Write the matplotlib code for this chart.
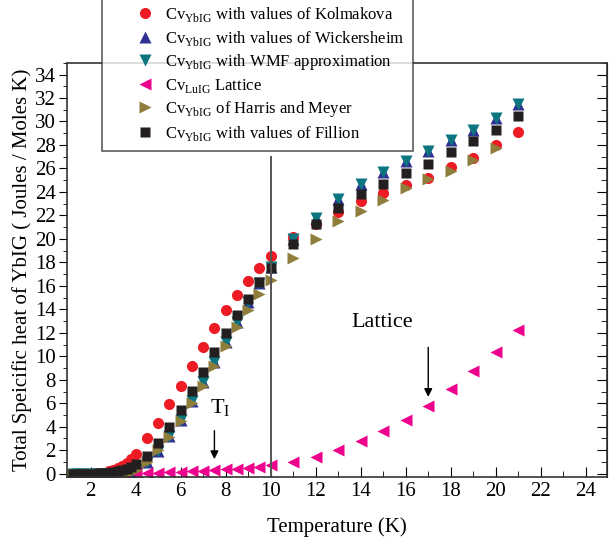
import matplotlib
matplotlib.use('Agg')
import matplotlib.pyplot as plt
from matplotlib.ticker import MultipleLocator

plt.rcParams['font.family'] = ['Liberation Serif', 'DejaVu Serif']
plt.rcParams['mathtext.fontset'] = 'custom'
plt.rcParams['mathtext.rm'] = 'Liberation Serif'

# Temperatures (K)
T_main = [1.2, 1.4, 1.6, 1.8, 2.0, 2.2, 2.4, 2.6, 2.8, 3.0, 3.2, 3.4, 3.6, 3.8,
          4.0, 4.5, 5.0, 5.5, 6.0, 6.5, 7.0, 7.5, 8.0, 8.5, 9.0, 9.5, 10.0,
          11, 12, 13, 14, 15, 16, 17, 18, 19, 20, 21]
T_harris = T_main[:-1]
T_lattice = [1.5, 2.0, 2.5, 3.0, 3.5, 4.0, 4.5, 5.0, 5.5, 6.0, 6.5, 7.0, 7.5,
             8.0, 8.5, 9.0, 9.5, 10.0, 11, 12, 13, 14, 15, 16, 17, 18, 19, 20, 21]

# Specific heat values (J / mol K)
cv_kolmakova = [0, 0, 0, 0, 0.01, 0.02, 0.04, 0.1, 0.2, 0.3, 0.45, 0.65, 0.9, 1.25,
                1.7, 3.0, 4.3, 5.9, 7.5, 9.2, 10.8, 12.4, 13.9, 15.2, 16.4, 17.5, 18.5,
                20.2, 21.3, 22.3, 23.2, 23.9, 24.6, 25.2, 26.1, 26.9, 28.0, 29.1]
cv_wickersheim = [0, 0, 0, 0, 0, 0, 0, 0, 0, 0.01, 0.03, 0.06, 0.1, 0.16,
                  0.35, 1.0, 1.9, 3.2, 4.6, 6.2, 7.8, 9.5, 11.2, 12.9, 14.6, 16.2, 17.6,
                  20.0, 21.8, 23.4, 24.7, 25.7, 26.6, 27.5, 28.4, 29.3, 30.3, 31.5]
cv_wmf = [0, 0, 0, 0, 0, 0, 0, 0, 0, 0.01, 0.03, 0.06, 0.1, 0.16,
          0.35, 1.0, 1.9, 3.2, 4.6, 6.2, 7.8, 9.5, 11.2, 12.9, 14.6, 16.2, 17.6,
          20.0, 21.8, 23.4, 24.7, 25.7, 26.6, 27.5, 28.4, 29.3, 30.3, 31.5]
cv_lattice = [0, 0, 0, 0.01, 0.02, 0.04, 0.06, 0.09, 0.12, 0.16, 0.2, 0.25, 0.31,
              0.37, 0.44, 0.52, 0.6, 0.7, 0.96, 1.42, 1.98, 2.75, 3.6, 4.6, 5.8,
              7.2, 8.76, 10.4, 12.25]
cv_harris = [0, 0, 0, 0, 0, 0, 0, 0, 0, 0.01, 0.03, 0.06, 0.1, 0.16,
             0.3, 1.0, 2.0, 3.1, 4.45, 6.05, 7.5, 9.2, 10.9, 12.5, 13.9, 15.3, 16.5,
             18.4, 20.0, 21.5, 22.4, 23.3, 24.3, 25.1, 25.8, 26.7, 27.7]
cv_fillion = [0, 0, 0, 0, 0, 0.01, 0.02, 0.04, 0.07, 0.12, 0.2, 0.3, 0.42, 0.6,
              0.85, 1.5, 2.6, 3.95, 5.45, 7.05, 8.65, 10.35, 11.95, 13.5, 14.9, 16.3, 17.5,
              19.6, 21.3, 22.6, 23.8, 24.7, 25.6, 26.4, 27.4, 28.3, 29.3, 30.5]

fig = plt.figure(figsize=(6.09, 5.46), dpi=100)
ax = fig.add_axes([0.110, 0.126, 0.887, 0.759])

ms = 8
ax.plot(T_main, cv_kolmakova, 'o', color='#ed1c24', ms=ms, mec='none',
        label=r'Cv$_{\rm YbIG}$ with values of Kolmakova')
ax.plot(T_main, cv_wickersheim, '^', color='#2e3192', ms=ms + 1, mec='none',
        label=r'Cv$_{\rm YbIG}$ with values of Wickersheim')
ax.plot(T_main, cv_wmf, 'v', color='#0b7580', ms=ms + 1, mec='none',
        label=r'Cv$_{\rm YbIG}$ with WMF approximation')
ax.plot(T_lattice, cv_lattice, '<', color='#ec008c', ms=ms + 1, mec='none',
        label=r'Cv$_{\rm LuIG}$ Lattice')
ax.plot(T_harris, cv_harris, '>', color='#8f7d3c', ms=ms + 1, mec='none',
        label=r'Cv$_{\rm YbIG}$ of Harris and Meyer')
ax.plot(T_main, cv_fillion, 's', color='#231f20', ms=ms - 1, mec='none',
        label=r'Cv$_{\rm YbIG}$ with values of Fillion')

# vertical marker at 10 K
ax.plot([10, 10], [-0.3, 27], color='#555555', lw=1.4)

# annotations
ax.annotate('', xy=(7.5, 1.0), xytext=(7.5, 3.9),
            arrowprops=dict(arrowstyle='-|>', color='black', lw=1, mutation_scale=12))
ax.text(7.75, 5.6, r'T$_{\rm I}$', fontsize=16, ha='center', va='center')
ax.annotate('', xy=(17.0, 6.3), xytext=(17.0, 11.0),
            arrowprops=dict(arrowstyle='-|>', color='black', lw=1, mutation_scale=12))
ax.text(14.95, 12.9, 'Lattice', fontsize=16, ha='center', va='center')

ax.set_xlim(0.95, 24.95)
ax.set_ylim(-0.3, 35)
ax.xaxis.set_major_locator(MultipleLocator(2))
ax.xaxis.set_minor_locator(MultipleLocator(1))
ax.yaxis.set_major_locator(MultipleLocator(2))
ax.yaxis.set_minor_locator(MultipleLocator(1))
ax.tick_params(axis='x', which='both', direction='in', top=False, labelsize=15)
ax.tick_params(axis='x', which='major', length=7)
ax.tick_params(axis='x', which='minor', length=4)
ax.tick_params(axis='y', which='both', direction='out', right=False, labelsize=15, pad=2)
ax.tick_params(axis='y', which='major', length=6)
ax.tick_params(axis='y', which='minor', length=3)
for spine in ax.spines.values():
    spine.set_linewidth(1.2)
    spine.set_color('#333333')

# inward ticks on the right side
sec = ax.secondary_yaxis('right')
sec.yaxis.set_major_locator(MultipleLocator(2))
sec.yaxis.set_minor_locator(MultipleLocator(1))
sec.tick_params(which='both', direction='in', labelright=False)
sec.tick_params(which='major', length=7)
sec.tick_params(which='minor', length=4)

ax.set_xlabel('Temperature (K)', fontsize=15, labelpad=12)
ax.set_ylabel('Total Speicific heat of YbIG ( Joules / Moles K)', fontsize=15, labelpad=2)

leg = fig.legend(loc='upper left', bbox_to_anchor=(0.1675, 1.0055), fontsize=12,
                 frameon=True, fancybox=False, edgecolor='#333333',
                 handletextpad=-0.9, labelspacing=0.27, borderpad=0.5, handlelength=4.2,
                 borderaxespad=0)
leg.get_frame().set_linewidth(1.2)

fig.savefig('out.png', dpi=100)
